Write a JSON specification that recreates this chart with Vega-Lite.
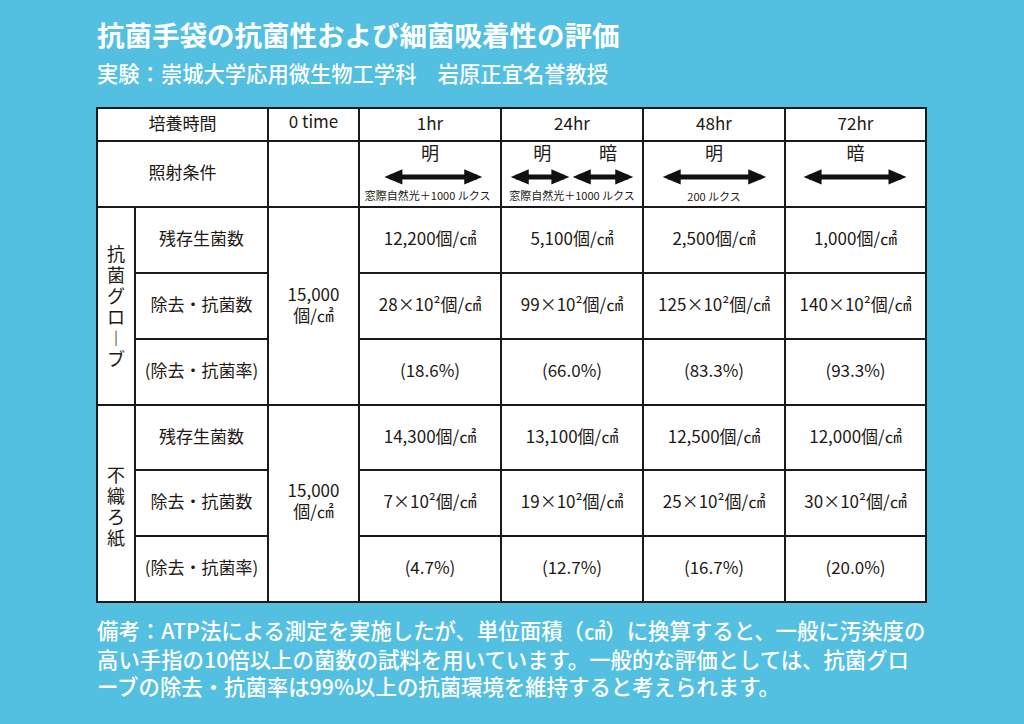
{
  "$schema": "https://vega.github.io/schema/vega-lite/v6.json",
  "width": 1024,
  "height": 724,
  "autosize": "none",
  "padding": 0,
  "background": "#53bfe1",
  "config": {"view": {"stroke": null}},
  "datasets": {
    "cells": [
      {"c0": 0, "c1": 36, "r0": 0, "r1": 1}, {"c0": 36, "c1": 55, "r0": 0, "r1": 1},
      {"c0": 55, "c1": 85, "r0": 0, "r1": 1}, {"c0": 85, "c1": 115, "r0": 0, "r1": 1},
      {"c0": 115, "c1": 145, "r0": 0, "r1": 1}, {"c0": 145, "c1": 175, "r0": 0, "r1": 1},
      {"c0": 0, "c1": 36, "r0": 1, "r1": 3}, {"c0": 36, "c1": 55, "r0": 1, "r1": 3},
      {"c0": 55, "c1": 85, "r0": 1, "r1": 3}, {"c0": 85, "c1": 115, "r0": 1, "r1": 3},
      {"c0": 115, "c1": 145, "r0": 1, "r1": 3}, {"c0": 145, "c1": 175, "r0": 1, "r1": 3},
      {"c0": 0, "c1": 8, "r0": 3, "r1": 9}, {"c0": 36, "c1": 55, "r0": 3, "r1": 9},
      {"c0": 8, "c1": 36, "r0": 3, "r1": 5}, {"c0": 8, "c1": 36, "r0": 5, "r1": 7}, {"c0": 8, "c1": 36, "r0": 7, "r1": 9},
      {"c0": 55, "c1": 85, "r0": 3, "r1": 5}, {"c0": 55, "c1": 85, "r0": 5, "r1": 7}, {"c0": 55, "c1": 85, "r0": 7, "r1": 9},
      {"c0": 85, "c1": 115, "r0": 3, "r1": 5}, {"c0": 85, "c1": 115, "r0": 5, "r1": 7}, {"c0": 85, "c1": 115, "r0": 7, "r1": 9},
      {"c0": 115, "c1": 145, "r0": 3, "r1": 5}, {"c0": 115, "c1": 145, "r0": 5, "r1": 7}, {"c0": 115, "c1": 145, "r0": 7, "r1": 9},
      {"c0": 145, "c1": 175, "r0": 3, "r1": 5}, {"c0": 145, "c1": 175, "r0": 5, "r1": 7}, {"c0": 145, "c1": 175, "r0": 7, "r1": 9},
      {"c0": 0, "c1": 8, "r0": 9, "r1": 15}, {"c0": 36, "c1": 55, "r0": 9, "r1": 15},
      {"c0": 8, "c1": 36, "r0": 9, "r1": 11}, {"c0": 8, "c1": 36, "r0": 11, "r1": 13}, {"c0": 8, "c1": 36, "r0": 13, "r1": 15},
      {"c0": 55, "c1": 85, "r0": 9, "r1": 11}, {"c0": 55, "c1": 85, "r0": 11, "r1": 13}, {"c0": 55, "c1": 85, "r0": 13, "r1": 15},
      {"c0": 85, "c1": 115, "r0": 9, "r1": 11}, {"c0": 85, "c1": 115, "r0": 11, "r1": 13}, {"c0": 85, "c1": 115, "r0": 13, "r1": 15},
      {"c0": 115, "c1": 145, "r0": 9, "r1": 11}, {"c0": 115, "c1": 145, "r0": 11, "r1": 13}, {"c0": 115, "c1": 145, "r0": 13, "r1": 15},
      {"c0": 145, "c1": 175, "r0": 9, "r1": 11}, {"c0": 145, "c1": 175, "r0": 11, "r1": 13}, {"c0": 145, "c1": 175, "r0": 13, "r1": 15}
    ],
    "labels": [
      {"gx": 18, "gy": 0.5, "t": "培養時間"}, {"gx": 45.5, "gy": 0.45, "t": "0 time"},
      {"gx": 70, "gy": 0.5, "t": "1hr"}, {"gx": 100, "gy": 0.5, "t": "24hr"},
      {"gx": 130, "gy": 0.5, "t": "48hr"}, {"gx": 160, "gy": 0.5, "t": "72hr"},
      {"gx": 18, "gy": 2, "t": "照射条件"},
      {"gx": 22, "gy": 4, "t": "残存生菌数"}, {"gx": 22, "gy": 6, "t": "除去・抗菌数"}, {"gx": 22, "gy": 8, "t": "(除去・抗菌率)"},
      {"gx": 22, "gy": 10, "t": "残存生菌数"}, {"gx": 22, "gy": 12, "t": "除去・抗菌数"}, {"gx": 22, "gy": 14, "t": "(除去・抗菌率)"},
      {"gx": 70, "gy": 4, "t": "12,200個/㎠"}, {"gx": 100, "gy": 4, "t": "5,100個/㎠"},
      {"gx": 130, "gy": 4, "t": "2,500個/㎠"}, {"gx": 160, "gy": 4, "t": "1,000個/㎠"},
      {"gx": 70, "gy": 6, "t": "28×10²個/㎠"}, {"gx": 100, "gy": 6, "t": "99×10²個/㎠"},
      {"gx": 130, "gy": 6, "t": "125×10²個/㎠"}, {"gx": 160, "gy": 6, "t": "140×10²個/㎠"},
      {"gx": 70, "gy": 8, "t": "(18.6%)"}, {"gx": 100, "gy": 8, "t": "(66.0%)"},
      {"gx": 130, "gy": 8, "t": "(83.3%)"}, {"gx": 160, "gy": 8, "t": "(93.3%)"},
      {"gx": 70, "gy": 10, "t": "14,300個/㎠"}, {"gx": 100, "gy": 10, "t": "13,100個/㎠"},
      {"gx": 130, "gy": 10, "t": "12,500個/㎠"}, {"gx": 160, "gy": 10, "t": "12,000個/㎠"},
      {"gx": 70, "gy": 12, "t": "7×10²個/㎠"}, {"gx": 100, "gy": 12, "t": "19×10²個/㎠"},
      {"gx": 130, "gy": 12, "t": "25×10²個/㎠"}, {"gx": 160, "gy": 12, "t": "30×10²個/㎠"},
      {"gx": 70, "gy": 14, "t": "(4.7%)"}, {"gx": 100, "gy": 14, "t": "(12.7%)"},
      {"gx": 130, "gy": 14, "t": "(16.7%)"}, {"gx": 160, "gy": 14, "t": "(20.0%)"}
    ],
    "stacked": [
      {"gx": 45.5, "gy": 5.7, "t": "15,000\n個/㎠"}, {"gx": 45.5, "gy": 11.67, "t": "15,000\n個/㎠"}
    ],
    "vertical": [
      {"gx": 4, "gy": 4.48, "t": "抗\n菌\nグ\nロ\n︱\nブ"},
      {"gx": 4, "gy": 11.2, "t": "不\n織\nろ\n紙"}
    ],
    "light": [
      {"gx": 70, "gy": 1.42, "t": "明"}, {"gx": 93.7, "gy": 1.42, "t": "明"},
      {"gx": 107.6, "gy": 1.42, "t": "暗"}, {"gx": 130, "gy": 1.42, "t": "明"},
      {"gx": 160, "gy": 1.42, "t": "暗"}
    ],
    "notes": [
      {"gx": 69.5, "gy": 2.7, "t": "窓際自然光＋1000 ルクス"},
      {"gx": 100, "gy": 2.7, "t": "窓際自然光＋1000 ルクス"},
      {"gx": 130, "gy": 2.72, "t": "200 ルクス"}
    ],
    "arrows": [
      {"a0": 61.5, "a1": 79.9, "gy": 2.09},
      {"a0": 88.2, "a1": 98.3, "gy": 2.09},
      {"a0": 101.3, "a1": 111.8, "gy": 2.09},
      {"a0": 120.3, "a1": 139.9, "gy": 2.09},
      {"a0": 150.1, "a1": 169.7, "gy": 2.09}
    ],
    "page": [
      {"kind": "title", "gx": 0, "gy": -2.12, "t": "抗菌手袋の抗菌性および細菌吸着性の評価"},
      {"kind": "sub", "gx": 0, "gy": -0.97, "t": "実験：崇城大学応用微生物工学科　岩原正宜名誉教授"},
      {"kind": "foot", "gx": 0, "gy": 15.94, "t": "備考：ATP法による測定を実施したが、単位面積（㎠）に換算すると、一般に汚染度の"},
      {"kind": "foot", "gx": 0, "gy": 16.82, "t": "高い手指の10倍以上の菌数の試料を用いています。一般的な評価としては、抗菌グロ"},
      {"kind": "foot", "gx": 0, "gy": 17.64, "t": "ーブの除去・抗菌率は99%以上の抗菌環境を維持すると考えられます。"}
    ]
  },
  "layer": [
    {
      "data": {"name": "cells"},
      "mark": {"type": "rect", "fill": "#ffffff", "stroke": "#1a1a1a", "strokeWidth": 2},
      "encoding": {
        "x": {"field": "c0", "type": "quantitative", "axis": null, "scale": {"type": "linear", "domain": [0, 8, 36, 55, 85, 115, 145, 175], "range": [97, 135, 268, 359, 501, 643, 785, 926], "zero": false, "nice": false}},
        "x2": {"field": "c1"},
        "y": {"field": "r0", "type": "quantitative", "axis": null, "scale": {"type": "linear", "domain": [0, 1, 3, 5, 7, 9, 11, 13, 15], "range": [108, 141, 207, 273, 339, 405, 470, 536, 602], "zero": false, "nice": false}},
        "y2": {"field": "r1"}
      }
    },
    {
      "data": {"name": "arrows"},
      "mark": {"type": "rule", "stroke": "#111111", "strokeWidth": 5, "strokeCap": "butt"},
      "encoding": {
        "x": {"field": "a0", "type": "quantitative"},
        "x2": {"field": "a1"},
        "y": {"field": "gy", "type": "quantitative"}
      }
    },
    {
      "data": {"name": "arrows"},
      "mark": {"type": "point", "filled": true, "fill": "#111111", "opacity": 1, "strokeWidth": 0, "size": 324, "shape": "M1.4,-0.85L-0.6,0L1.4,0.85Z"},
      "encoding": {
        "x": {"field": "a0", "type": "quantitative"},
        "y": {"field": "gy", "type": "quantitative"}
      }
    },
    {
      "data": {"name": "arrows"},
      "mark": {"type": "point", "filled": true, "fill": "#111111", "opacity": 1, "strokeWidth": 0, "size": 324, "shape": "M-1.4,-0.85L0.6,0L-1.4,0.85Z"},
      "encoding": {
        "x": {"field": "a1", "type": "quantitative"},
        "y": {"field": "gy", "type": "quantitative"}
      }
    },
    {
      "data": {"name": "labels"},
      "mark": {"type": "text", "font": "Noto Sans CJK JP", "fontSize": 17, "fill": "#231815", "align": "center", "baseline": "middle"},
      "encoding": {
        "x": {"field": "gx", "type": "quantitative"},
        "y": {"field": "gy", "type": "quantitative"},
        "text": {"field": "t", "type": "nominal"}
      }
    },
    {
      "data": {"name": "stacked"},
      "mark": {"type": "text", "font": "Noto Sans CJK JP", "fontSize": 17, "fill": "#231815", "align": "center", "baseline": "middle", "lineBreak": "\n", "lineHeight": 21},
      "encoding": {
        "x": {"field": "gx", "type": "quantitative"},
        "y": {"field": "gy", "type": "quantitative"},
        "text": {"field": "t", "type": "nominal"}
      }
    },
    {
      "data": {"name": "vertical"},
      "mark": {"type": "text", "font": "Noto Sans CJK JP", "fontSize": 18, "fill": "#231815", "align": "center", "baseline": "middle", "lineBreak": "\n", "lineHeight": 21},
      "encoding": {
        "x": {"field": "gx", "type": "quantitative"},
        "y": {"field": "gy", "type": "quantitative"},
        "text": {"field": "t", "type": "nominal"}
      }
    },
    {
      "data": {"name": "light"},
      "mark": {"type": "text", "font": "Noto Sans CJK JP", "fontSize": 18, "fill": "#231815", "align": "center", "baseline": "middle"},
      "encoding": {
        "x": {"field": "gx", "type": "quantitative"},
        "y": {"field": "gy", "type": "quantitative"},
        "text": {"field": "t", "type": "nominal"}
      }
    },
    {
      "data": {"name": "notes"},
      "mark": {"type": "text", "font": "Noto Sans CJK JP", "fontSize": 11, "fill": "#231815", "align": "center", "baseline": "middle"},
      "encoding": {
        "x": {"field": "gx", "type": "quantitative"},
        "y": {"field": "gy", "type": "quantitative"},
        "text": {"field": "t", "type": "nominal"}
      }
    },
    {
      "data": {"name": "page"},
      "transform": [{"filter": "datum.kind === 'title'"}],
      "mark": {"type": "text", "font": "Noto Sans CJK JP", "fontSize": 27.5, "fontWeight": "bold", "fill": "#ffffff", "align": "left", "baseline": "middle"},
      "encoding": {
        "x": {"field": "gx", "type": "quantitative"},
        "y": {"field": "gy", "type": "quantitative"},
        "text": {"field": "t", "type": "nominal"}
      }
    },
    {
      "data": {"name": "page"},
      "transform": [{"filter": "datum.kind === 'sub'"}],
      "mark": {"type": "text", "font": "Noto Sans CJK JP", "fontSize": 21.3, "fontWeight": 500, "fill": "#ffffff", "align": "left", "baseline": "middle"},
      "encoding": {
        "x": {"field": "gx", "type": "quantitative"},
        "y": {"field": "gy", "type": "quantitative"},
        "text": {"field": "t", "type": "nominal"}
      }
    },
    {
      "data": {"name": "page"},
      "transform": [{"filter": "datum.kind === 'foot'"}],
      "mark": {"type": "text", "font": "Noto Sans CJK JP", "fontSize": 21.4, "fontWeight": 500, "fill": "#ffffff", "align": "left", "baseline": "middle"},
      "encoding": {
        "x": {"field": "gx", "type": "quantitative"},
        "y": {"field": "gy", "type": "quantitative"},
        "text": {"field": "t", "type": "nominal"}
      }
    }
  ]
}
